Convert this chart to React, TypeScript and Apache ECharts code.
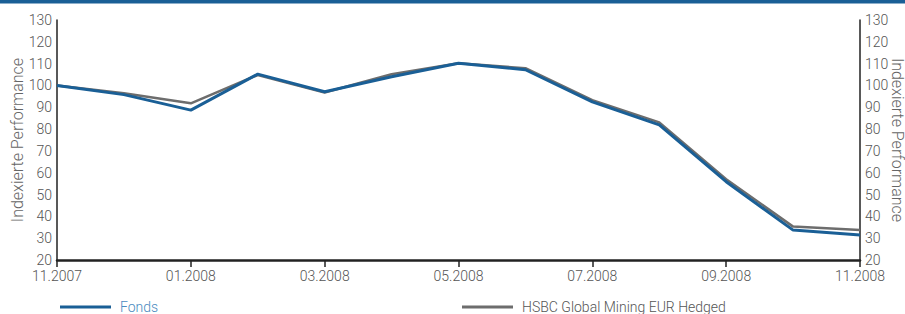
import React, { useEffect, useRef } from "react";
import * as echarts from "echarts";

const months = [
  "11.2007", "12.2007", "01.2008", "02.2008", "03.2008", "04.2008", "05.2008",
  "06.2008", "07.2008", "08.2008", "09.2008", "10.2008", "11.2008",
];
const fonds = [100, 95.8, 88.7, 105.2, 97.1, 104.0, 110.2, 107.2, 92.5, 81.9, 55.9, 33.7, 31.5];
const benchmark = [100, 96.4, 91.8, 104.8, 96.8, 105.1, 110.2, 107.9, 93.3, 83.1, 57.0, 35.3, 33.7];
const fondsName = "Fonds";
const benchName = "HSBC Global Mining EUR Hedged";
const axisName = "Indexierte Performance";

const FONT = "Roboto, 'DejaVu Sans', sans-serif";

export default function App() {
  const ref = useRef<HTMLDivElement>(null);
  useEffect(() => {
    if (!ref.current) return;
    const chart = echarts.init(ref.current, undefined, { renderer: "svg" });
    const yAxisBase = {
      type: "value" as const,
      min: 20,
      max: 130,
      interval: 10,
      name: axisName,
      nameLocation: "middle" as const,
      nameMoveOverlap: false,
      nameTextStyle: { color: "#666", fontSize: 16, fontFamily: FONT, fontWeight: 300, lineHeight: 16 },
      axisLine: { show: true, lineStyle: { color: "#222", width: 1.5 } },
      axisTick: { show: false },
      splitLine: { show: false },
      axisLabel: { color: "#555", fontSize: 14, fontFamily: FONT, fontWeight: 300 },
    };
    chart.setOption({
      animation: false,
      backgroundColor: "#fff",
      graphic: [
        { type: "rect", left: 0, top: 0, shape: { width: 905, height: 3.5 }, style: { fill: "#1a5f96" } },
      ],
      grid: { left: 57, right: 45, top: 20, bottom: 54, containLabel: false, outerBoundsMode: "none" },
      legend: [
        {
          data: [{ name: fondsName, textStyle: { color: "#4a8ac0" } }],
          left: 55,
          top: 295,
          icon: "rect",
          itemWidth: 51,
          itemHeight: 3,
          itemGap: 10,
          textStyle: { fontSize: 14, fontFamily: FONT, fontWeight: 300, padding: [0, 0, 0, 4] },
        },
        {
          data: [{ name: benchName, textStyle: { color: "#555" } }],
          left: 457,
          top: 295,
          icon: "rect",
          itemWidth: 51,
          itemHeight: 3,
          textStyle: { fontSize: 14, fontFamily: FONT, fontWeight: 300, padding: [0, 0, 0, 4] },
        },
      ],
      xAxis: {
        type: "category",
        data: months,
        boundaryGap: false,
        axisLine: { lineStyle: { color: "#222", width: 2.5 } },
        axisTick: { show: true, interval: 1, length: 7, lineStyle: { color: "#222", width: 1.5 } },
        axisLabel: { interval: 1, color: "#555", fontSize: 14, fontFamily: FONT, fontWeight: 300, margin: 9 },
        splitLine: { show: false },
      },
      yAxis: [
        { ...yAxisBase, position: "left", nameGap: 32, nameRotate: 90, axisLabel: { ...yAxisBase.axisLabel, margin: 5 } },
        { ...yAxisBase, position: "right", nameGap: 29, nameRotate: -90, axisLabel: { ...yAxisBase.axisLabel, margin: 5 } },
      ],
      series: [
        {
          name: benchName,
          type: "line",
          data: benchmark,
          showSymbol: false,
          symbol: "none",
          lineStyle: { color: "#6d6d6d", width: 2.5 },
          itemStyle: { color: "#6d6d6d" },
        },
        {
          name: fondsName,
          type: "line",
          data: fonds,
          showSymbol: false,
          symbol: "none",
          lineStyle: { color: "#1a5f96", width: 3 },
          itemStyle: { color: "#1a5f96" },
        },
      ],
    });
    return () => chart.dispose();
  }, []);
  return (
    <div
      ref={ref}
      style={{ position: "fixed", left: 0, top: 0, width: 905, height: 314, background: "#fff" }}
    />
  );
}
